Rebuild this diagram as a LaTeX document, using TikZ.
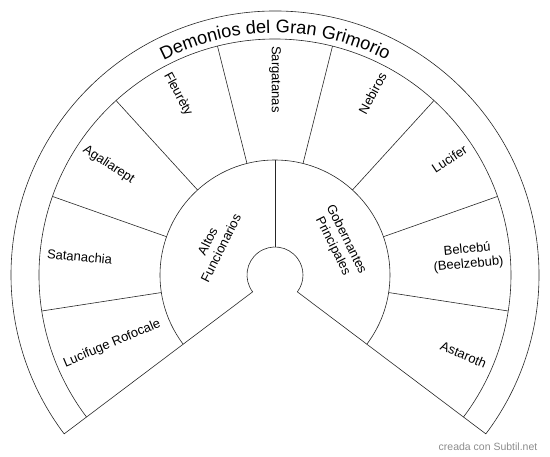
\documentclass[tikz,border=0pt]{standalone}
\usepackage{fontspec}
\setmainfont{Liberation Sans}
\usepackage{tikz}
\usetikzlibrary{decorations.text}
\tikzstyle{ring} = [line width=0.6pt, draw=black!85]
\tikzstyle{leftname} = [anchor=west, inner sep=0pt, font=\fontsize{13}{15}\selectfont]
\tikzstyle{rightname} = [anchor=east, inner sep=0pt, font=\fontsize{13}{15}\selectfont]
\tikzstyle{group} = [inner sep=0pt, align=center, font=\fontsize{13}{15}\selectfont]
\tikzstyle{credit} = [inner sep=0pt, text=black!45, font=\fontsize{10.5}{12}\selectfont]

\begin{document}
\begin{tikzpicture}
        \useasboundingbox (-275pt,-182pt) rectangle (275pt,275pt);
        % outline of the fan
        \draw [ring] (217:264pt) -- (217:28pt) arc[start angle=217, end angle=-37, radius=28pt] -- (-37:264pt) arc[start angle=-37, end angle=217, radius=264pt] -- cycle;
        \draw [ring] (217:115pt) arc[start angle=217, end angle=-37, radius=115pt];
        \draw [ring] (217:236pt) arc[start angle=217, end angle=-37, radius=236pt];
        \draw [ring] (90:28pt) -- (90:115pt);

        % dividers of the outer ring
        \draw [ring] (-8.778:115pt) -- (-8.778:236pt);
        \draw [ring] (19.444:115pt) -- (19.444:236pt);
        \draw [ring] (47.667:115pt) -- (47.667:236pt);
        \draw [ring] (75.889:115pt) -- (75.889:236pt);
        \draw [ring] (104.111:115pt) -- (104.111:236pt);
        \draw [ring] (132.333:115pt) -- (132.333:236pt);
        \draw [ring] (160.556:115pt) -- (160.556:236pt);
        \draw [ring] (188.778:115pt) -- (188.778:236pt);

        % title along the band
        \path [decorate, decoration={text along path, text align=center, text={|\fontsize{18.2}{19}\selectfont|Demonios del Gran Grimorio}}] (150:242pt) arc[start angle=150, end angle=30, radius=242pt];

        % names
        \node (lucifuge) [leftname, rotate=22.889] at (202.889:229pt) {Lucifuge Rofocale};
        \node (satanachia) [leftname, rotate=-5.333] at (174.667:229pt) {Satanachia};
        \node (agaliarept) [leftname, rotate=-33.556] at (146.444:229pt) {Agaliarept};
        \node (fleurety) [leftname, rotate=-61.778] at (118.222:229pt) {Fleurèty};
        \node (sargatanas) [leftname, rotate=-90] at (90:229pt) {Sargatanas};
        \node (nebiros) [rightname, rotate=61.778] at (61.778:229pt) {Nebiros};
        \node (lucifer) [rightname, rotate=33.556] at (33.556:229pt) {Lucifer};
        \node (belcebu) [rightname, align=center, rotate=5.333] at (5.333:229pt) {Belcebú\\(Beelzebub)};
        \node (astaroth) [rightname, rotate=-22.889] at (-22.889:229pt) {Astaroth};

        % groups
        \node (altos) [group, rotate=63.5] at (153.5:68pt) {Altos\\Funcionarios};
        \node (gobernantes) [group, rotate=-63.5] at (26.5:72pt) {Gobernantes\\Principales};

        \node (creada) [credit] at (213pt,-172pt) {creada con Subtil.net};
    \end{tikzpicture}
\end{document}
